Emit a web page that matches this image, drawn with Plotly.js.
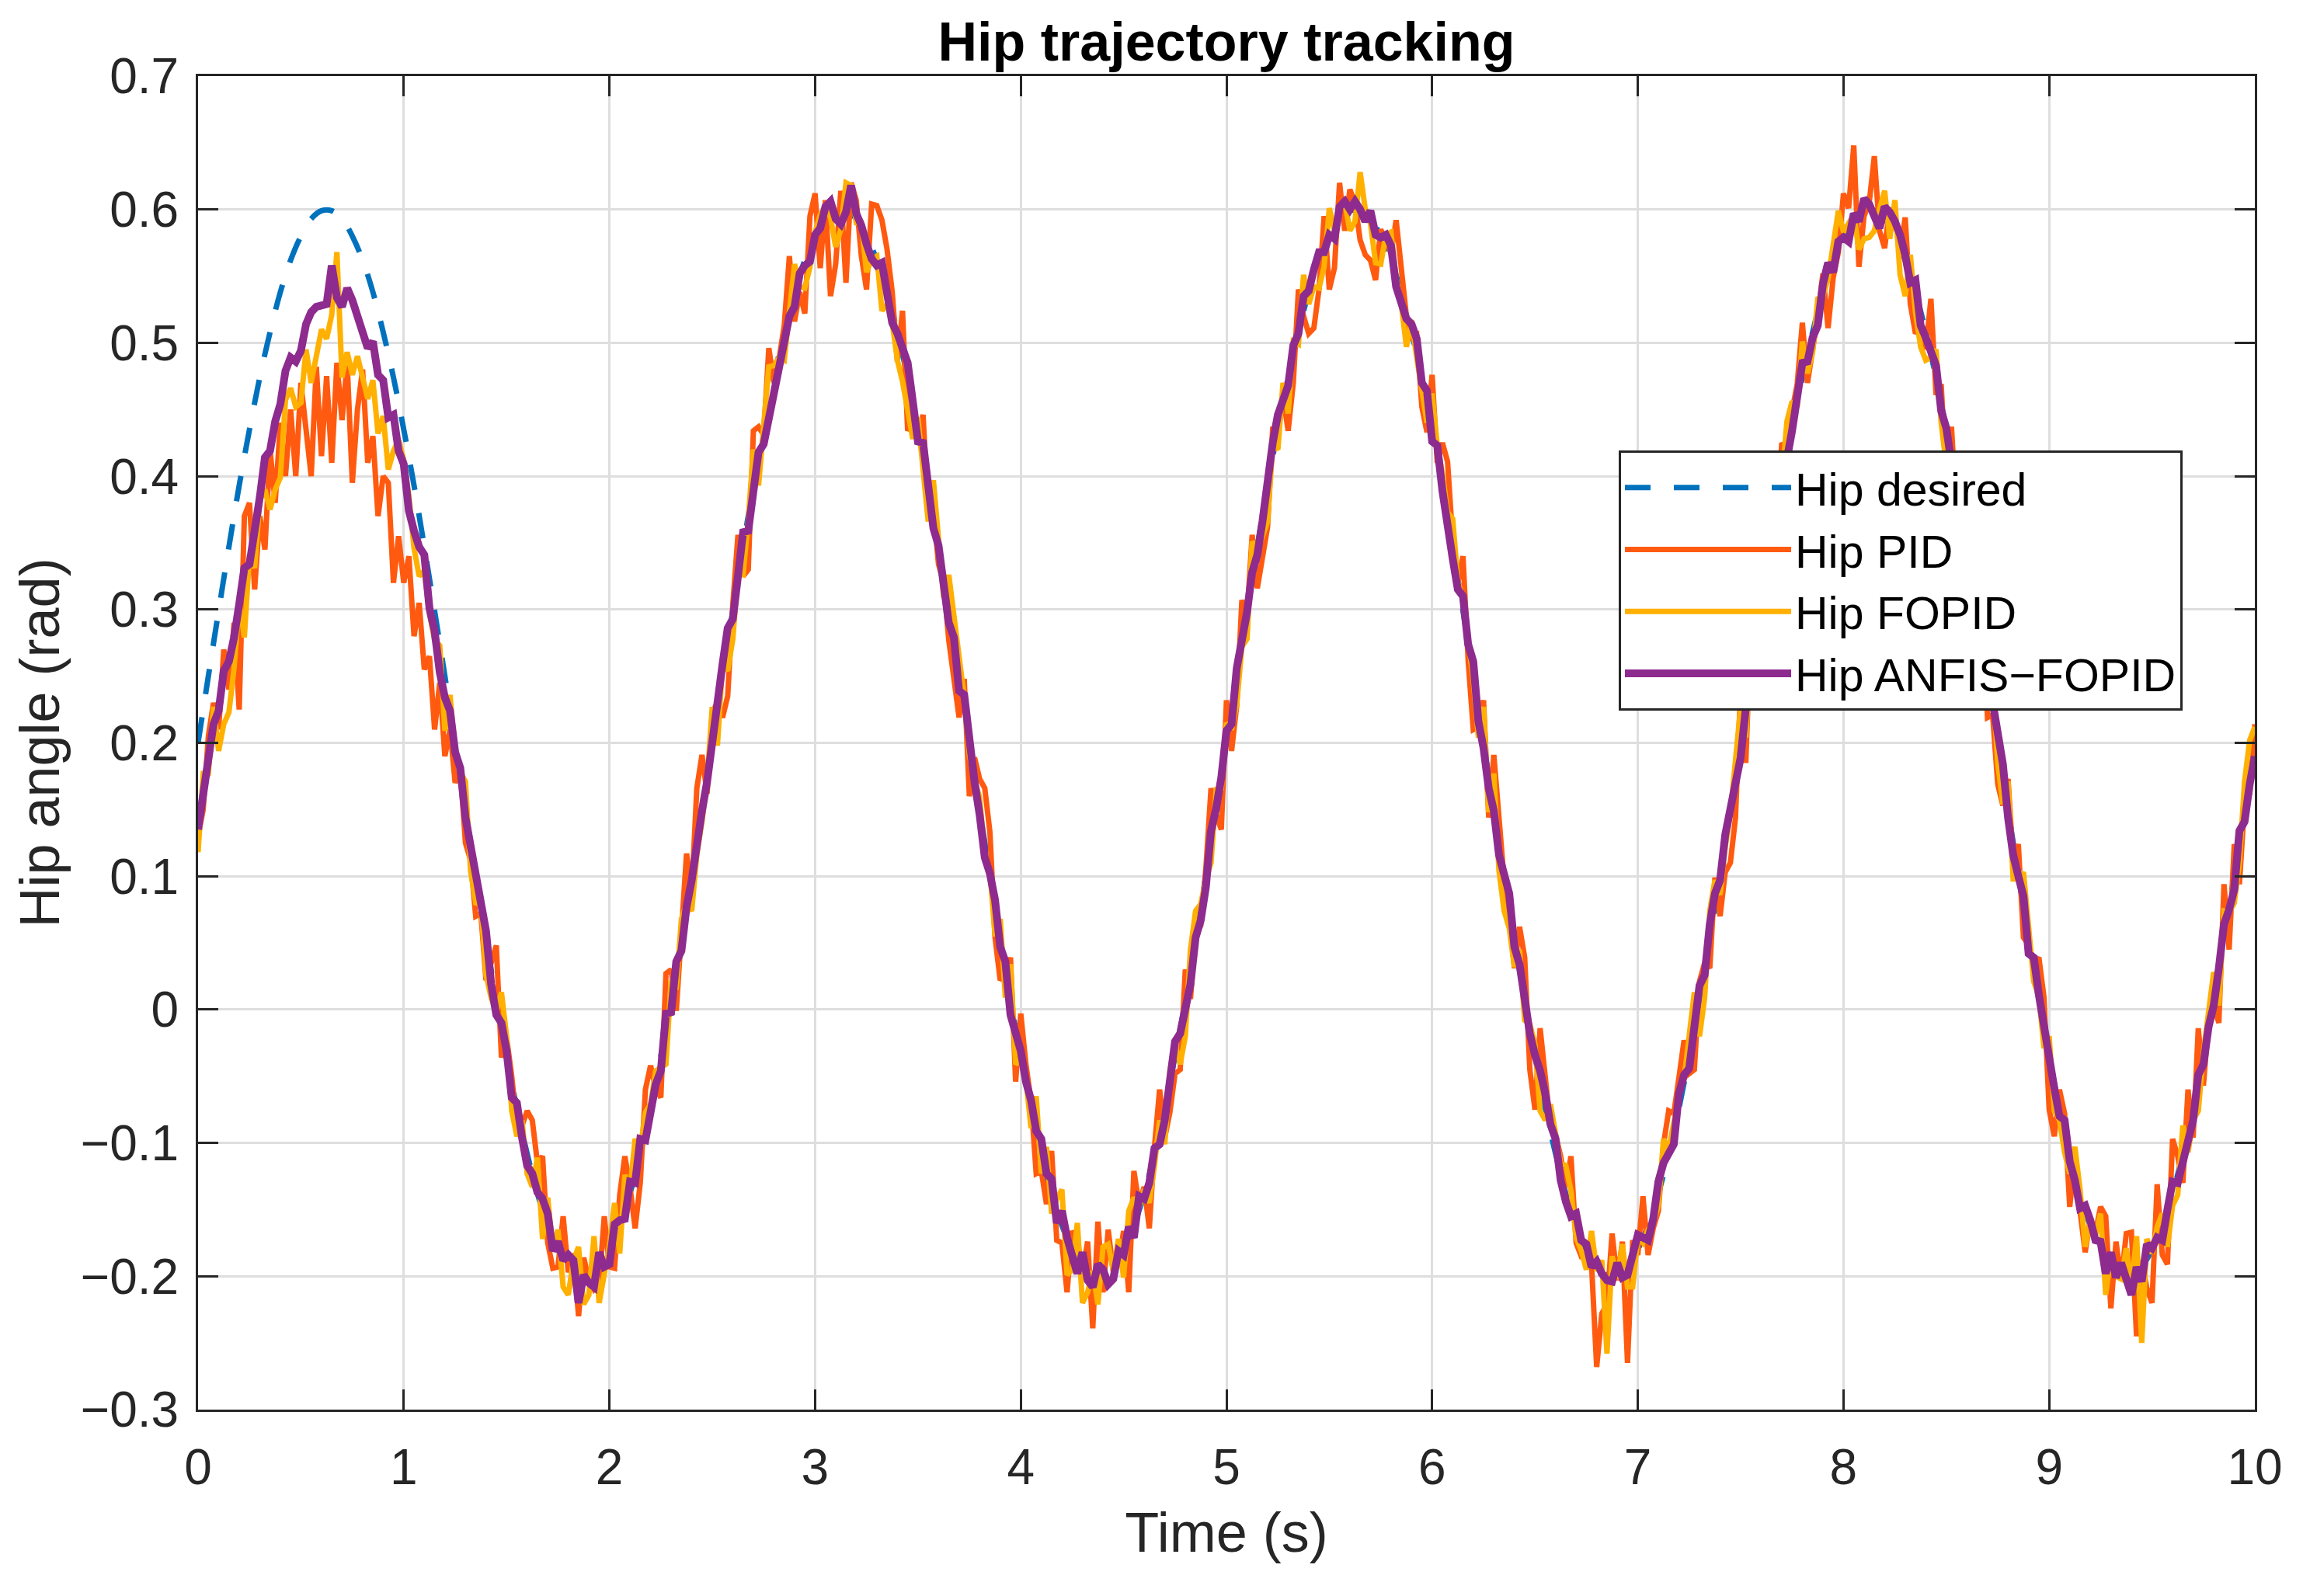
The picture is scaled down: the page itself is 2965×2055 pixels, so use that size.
<!DOCTYPE html>
<html>
<head>
<meta charset="utf-8">
<script src="https://cdn.plot.ly/plotly-3.0.1.min.js"></script>
<style>
html,body{margin:0;padding:0;background:#fff;}
#chart{width:2965px;height:2055px;}
</style>
</head>
<body>
<div id="chart"></div>
<script>
// Sampling of the time axis (s)
var tStart = 0;
var dtDesired = 0.05;
var dtTracked = 0.025;

// Hip desired trajectory (rad), every 0.05 s from 0 to 10 s
var hipDesired = [
 .200,.250,.299,.347,.393,.435,.474,.508,.538,.562,.580,.593,.599,.599,.593,.580,.562,.538,.508,.474,.435,.393,.347,.299,.250,.200,.150,.101,.053,.007,-.035,-.074,-.108,-.138,-.162,-.180,-.193,-.199,-.199,-.193,-.180,-.162,-.138,-.108,-.074,-.035,.007,.053,.101,.150,
 .200,.250,.299,.347,.393,.435,.474,.508,.538,.562,.580,.593,.599,.599,.593,.580,.562,.538,.508,.474,.435,.393,.347,.299,.250,.200,.150,.101,.053,.007,-.035,-.074,-.108,-.138,-.162,-.180,-.193,-.199,-.199,-.193,-.180,-.162,-.138,-.108,-.074,-.035,.007,.053,.101,.150,
 .200,.250,.299,.347,.393,.435,.474,.508,.538,.562,.580,.593,.599,.599,.593,.580,.562,.538,.508,.474,.435,.393,.347,.299,.250,.200,.150,.101,.053,.007,-.035,-.074,-.108,-.138,-.162,-.180,-.193,-.199,-.199,-.193,-.180,-.162,-.138,-.108,-.074,-.035,.007,.053,.101,.150,
 .200,.250,.299,.347,.393,.435,.474,.508,.538,.562,.580,.593,.599,.599,.593,.580,.562,.538,.508,.474,.435,.393,.347,.299,.250,.200,.150,.101,.053,.007,-.035,-.074,-.108,-.138,-.162,-.180,-.193,-.199,-.199,-.193,-.180,-.162,-.138,-.108,-.074,-.035,.007,.053,.101,.150,
 .200
];

// Hip PID response (rad), every 0.025 s
var hipPID = [
 .130,.150,.205,.230,.210,.270,.240,.290,.225,.370,.380,.315,.370,.345,.420,.380,.440,.400,.450,.400,
 .470,.430,.400,.482,.415,.475,.410,.485,.442,.485,.395,.450,.480,.410,.430,.370,.400,.395,.320,.355,
 .320,.340,.280,.305,.255,.265,.210,.245,.190,.210,.170,.180,.125,
 .112,.070,.072,.022,.035,.048,-.036,-.021,-.050,-.087,-.087,-.076,-.083,-.115,-.110,-.175,-.194,-.193,-.155,-.197,
 -.183,-.230,-.186,-.203,-.210,-.206,-.155,-.193,-.194,-.139,-.110,-.133,-.164,-.130,-.060,-.042,-.059,-.066,.027,.030,
 -.001,.067,.117,.088,.166,.191,.162,
 .223,.230,.219,.235,.304,.356,.325,.330,.434,.437,
 .431,.496,.470,.488,.513,.565,.516,.538,.522,.595,
 .612,.556,.607,.535,.559,.614,.545,.620,.607,.565,
 .540,.604,.603,.592,.570,.538,.486,.524,.434,.442,
 .431,.446,.371,.375,.334,.320,.277,.244,.219,.248,
 .160,.189,.173,.166,.133,.054,.022,.026,.039,-.054,
 -.003,-.041,-.069,-.123,-.121,-.146,-.106,-.173,-.175,-.212,
 -.166,-.173,-.197,-.174,-.239,-.159,-.212,-.165,-.197,-.191,
 -.166,-.212,-.121,-.146,-.133,-.164,-.103,-.060,-.096,-.077,
 -.048,-.045,.030,.008,.058,.063,.106,.166,.146,.135,
 .232,.194,.228,.307,.295,.356,.316,.339,.362,.437,
 .431,.460,.434,.470,.540,.520,.507,.511,.540,.595,
 .540,.556,.620,.584,.615,.605,.577,.566,.562,.547,
 .585,.577,.567,.592,.552,.520,.504,.506,.452,.433,
 .476,.410,.425,.411,.352,.320,.340,.262,.210,.212,
 .232,.144,.191,.139,.097,.072,.031,.062,.039,-.045,
 -.075,-.014,-.051,-.087,-.094,-.110,-.133,-.110,-.175,-.185,
 -.184,-.191,-.268,-.228,-.221,-.168,-.203,-.174,-.265,-.173,
 -.184,-.140,-.184,-.164,-.151,-.101,-.076,-.078,-.051,-.023,
 -.048,-.045,.021,.035,.031,.099,.070,.103,.110,.144,
 .241,.185,.291,.244,.295,.329,.361,.366,.425,.419,
 .449,.469,.515,.470,.495,.520,.552,.511,.549,.568,
 .612,.601,.648,.557,.595,.605,.640,.584,.571,.601,
 .594,.568,.594,.529,.507,.511,.495,.533,.461,.469,
 .395,.437,.371,.384,.307,.302,.295,.316,.219,.221,
 .169,.153,.173,.112,.124,.054,.049,.035,.039,.009,
 -.075,-.095,-.060,-.078,-.148,-.110,-.151,-.182,-.157,-.167,
 -.148,-.155,-.224,-.174,-.203,-.168,-.167,-.245,-.188,-.209,
 -.220,-.131,-.184,-.191,-.097,-.110,-.130,-.060,-.096,-.014,
 -.057,-.009,.003,-.010,.094,.045,.124,.094,.155,.162,
 .214
];

// Hip FOPID response (rad), every 0.025 s
var hipFOPID = [
 .118,.177,.177,.227,.194,.214,.223,.256,.306,.279,
 .341,.331,.382,.390,.375,.390,.399,.457,.466,.452,
 .455,.495,.470,.493,.510,.503,.521,.568,.474,.493,
 .476,.490,.474,.458,.472,.432,.445,.405,.419,.427,
 .412,.385,.346,.325,.329,.297,.277,.273,.209,.236,
 .192,.178,.171,.104,.080,.079,.026,.009,-.002,.013,
 -.020,-.076,-.095,-.083,-.123,-.133,-.111,-.172,-.141,-.181,
 -.165,-.208,-.214,-.188,-.178,-.221,-.214,-.170,-.220,-.196,
 -.177,-.145,-.183,-.124,-.135,-.097,-.105,-.077,-.071,-.046,
 -.044,-.041,.022,.015,.068,.079,.074,.116,.141,.172,
 .227,.198,.259,.254,.278,.327,.326,.367,.420,.393,
 .438,.482,.483,.489,.487,.521,.559,.542,.541,.557,
 .583,.596,.602,.594,.572,.585,.620,.618,.590,.590,
 .553,.563,.565,.524,.529,.515,.487,.471,.447,.428,
 .444,.405,.366,.397,.350,.309,.326,.296,.265,.234,
 .191,.172,.159,.116,.104,.055,.068,.009,.034,-.041,
 -.038,-.052,-.089,-.065,-.123,-.103,-.153,-.142,-.135,-.199,
 -.195,-.160,-.220,-.212,-.196,-.221,-.178,-.176,-.196,-.172,
 -.201,-.151,-.141,-.148,-.135,-.145,-.117,-.083,-.101,-.046,
 -.026,-.041,-.020,.045,.074,.079,.098,.110,.165,.166,
 .215,.210,.229,.272,.278,.351,.344,.355,.366,.423,
 .420,.470,.447,.501,.499,.551,.529,.542,.541,.557,
 .601,.584,.602,.606,.584,.591,.628,.600,.590,.560,
 .559,.581,.583,.548,.529,.497,.517,.489,.465,.440,
 .462,.423,.402,.373,.368,.321,.308,.278,.247,.204,
 .227,.148,.177,.104,.074,.061,.032,.045,-.008,-.011,
 -.026,-.076,-.083,-.071,-.093,-.115,-.117,-.136,-.171,-.181,
 -.195,-.166,-.196,-.188,-.258,-.185,-.202,-.176,-.208,-.208,
 -.171,-.175,-.165,-.160,-.147,-.097,-.105,-.083,-.065,-.052,
 -.020,.013,-.020,.009,.074,.097,.086,.122,.147,.184,
 .227,.204,.271,.266,.272,.315,.374,.367,.396,.441,
 .456,.452,.501,.477,.493,.533,.535,.548,.571,.599,
 .583,.590,.596,.570,.578,.579,.584,.600,.614,.578,
 .607,.551,.535,.566,.523,.497,.487,.489,.495,.440,
 .408,.417,.390,.385,.326,.303,.278,.296,.247,.246,
 .185,.154,.171,.098,.098,.103,.056,.021,.010,-.029,
 -.020,-.076,-.083,-.107,-.123,-.103,-.135,-.178,-.159,-.169,
 -.153,-.214,-.184,-.200,-.202,-.179,-.208,-.170,-.250,-.172,
 -.183,-.163,-.153,-.178,-.147,-.139,-.087,-.107,-.083,-.076,
 -.032,-.005,.028,.003,.074,.073,.080,.110,.171,.202,
 .212
];

// Hip ANFIS-FOPID response (rad), every 0.025 s
var hipANFIS = [
 .135,.164,.196,.214,.224,.254,.261,.279,.304,.331,
 .334,.356,.384,.414,.419,.441,.454,.479,.489,.486,
 .494,.514,.523,.527,.528,.529,.558,.534,.527,.541,
 .532,.521,.511,.496,.501,.476,.472,.444,.446,.419,
 .409,.374,.359,.347,.341,.301,.284,.253,.234,.224,
 .193,.181,.144,.124,.102,.085,.059,.019,-.004,-.010,
 -.031,-.066,-.070,-.096,-.117,-.123,-.137,-.142,-.153,-.181,
 -.174,-.188,-.184,-.188,-.220,-.199,-.205,-.208,-.182,-.193,
 -.191,-.161,-.158,-.157,-.129,-.130,-.097,-.098,-.073,-.056,
 -.046,-.003,-.002,.036,.044,.077,.097,.129,.149,.171,
 .204,.231,.259,.286,.293,.325,.358,.359,.389,.418,
 .424,.444,.465,.483,.504,.520,.527,.552,.558,.561,
 .581,.586,.602,.606,.593,.589,.598,.618,.597,.588,
 .574,.563,.558,.560,.537,.515,.507,.496,.485,.456,
 .426,.425,.392,.361,.348,.315,.290,.279,.239,.236,
 .199,.171,.146,.114,.102,.082,.047,.036,-.004,-.018,
 -.031,-.054,-.068,-.091,-.097,-.123,-.127,-.160,-.151,-.171,
 -.184,-.198,-.182,-.203,-.208,-.191,-.195,-.206,-.202,-.181,
 -.184,-.163,-.171,-.140,-.142,-.130,-.104,-.101,-.083,-.049,
 -.024,-.018,-.002,.019,.054,.067,.092,.134,.151,.174,
 .209,.214,.256,.274,.298,.328,.341,.366,.399,.425,
 .446,.459,.468,.498,.507,.535,.539,.555,.568,.568,
 .581,.578,.602,.606,.600,.606,.600,.591,.599,.581,
 .579,.581,.573,.542,.532,.518,.514,.503,.470,.464,
 .426,.423,.389,.359,.338,.315,.310,.274,.261,.216,
 .196,.166,.149,.116,.102,.087,.047,.034,.008,-.018,
 -.034,-.046,-.063,-.086,-.097,-.128,-.144,-.155,-.153,-.173,
 -.176,-.193,-.189,-.198,-.203,-.204,-.190,-.201,-.199,-.181,
 -.169,-.171,-.173,-.157,-.129,-.115,-.109,-.101,-.063,-.049,
 -.044,-.010,.018,.026,.064,.087,.097,.131,.151,.166,
 .189,.226,.259,.269,.288,.335,.353,.369,.404,.413,
 .434,.456,.485,.486,.504,.513,.544,.560,.553,.576,
 .579,.576,.597,.591,.608,.604,.593,.586,.602,.598,
 .591,.581,.566,.545,.547,.513,.504,.491,.483,.449,
 .436,.410,.392,.364,.338,.315,.305,.264,.254,.231,
 .211,.184,.144,.116,.100,.085,.042,.039,.011,-.013,
 -.044,-.059,-.080,-.083,-.114,-.128,-.149,-.147,-.158,-.173,
 -.174,-.198,-.182,-.201,-.190,-.201,-.214,-.193,-.204,-.176,
 -.179,-.171,-.173,-.150,-.129,-.130,-.114,-.096,-.083,-.049,
 -.041,-.013,.003,.031,.064,.075,.090,.134,.141,.169,
 .190
];

var seriesNames = ['Hip desired', 'Hip PID', 'Hip FOPID', 'Hip ANFIS\u2212FOPID'];
var xTickVals = [0,1,2,3,4,5,6,7,8,9,10];
var yTickVals = [-0.3,-0.2,-0.1,0,0.1,0.2,0.3,0.4,0.5,0.6,0.7];
var yTickText = ['\u22120.3','\u22120.2','\u22120.1','0','0.1','0.2','0.3','0.4','0.5','0.6','0.7'];

var FONT = 'Liberation Sans, Arial, Helvetica, sans-serif';
var AX = '#262626';

var traces = [
  {type:'scatter', mode:'lines', name:seriesNames[0], x0:tStart, dx:dtDesired, y:hipDesired,
   line:{color:'#0072BD', width:7, dash:'33px,30px', shape:'spline'}},
  {type:'scatter', mode:'lines', name:seriesNames[1], x0:tStart, dx:dtTracked, y:hipPID,
   line:{color:'#FF5A0F', width:7}},
  {type:'scatter', mode:'lines', name:seriesNames[2], x0:tStart, dx:dtTracked, y:hipFOPID,
   line:{color:'#FFB000', width:7}},
  {type:'scatter', mode:'lines', name:seriesNames[3], x0:tStart, dx:dtTracked, y:hipANFIS,
   line:{color:'#8E2B8F', width:10}}
];

var layout = {
  width:2965, height:2055,
  paper_bgcolor:'#ffffff', plot_bgcolor:'#ffffff',
  margin:{l:255, r:62, t:98, b:240, pad:0},
  font:{family:FONT, color:AX},
  showlegend:true,
  title:{text:'Hip trajectory tracking', font:{family:FONT, size:70, color:'#000', weight:'bold'},
         x:0.5, xref:'paper', xanchor:'center', y:1-53/2055, yref:'container', yanchor:'middle'},
  xaxis:{range:[0,10], tickvals:xTickVals, ticks:'inside', ticklen:26, tickwidth:3, tickcolor:AX,
         showline:true, linewidth:3, linecolor:AX, mirror:'ticks',
         showgrid:true, gridcolor:'#dedede', gridwidth:3, zeroline:false,
         tickfont:{family:FONT, size:64, color:AX}, ticklabelstandoff:16,
         title:{text:'Time (s)', font:{family:FONT, size:72, color:AX}, standoff:24}},
  yaxis:{range:[-0.3,0.7], tickvals:yTickVals, ticktext:yTickText, ticks:'inside', ticklen:26, tickwidth:3, tickcolor:AX,
         showline:true, linewidth:3, linecolor:AX, mirror:'ticks',
         showgrid:true, gridcolor:'#dedede', gridwidth:3, zeroline:false,
         tickfont:{family:FONT, size:64, color:AX}, ticklabelstandoff:9,
         title:{text:'Hip angle (rad)', font:{family:FONT, size:72, color:AX}, standoff:4}},
  legend:{x:(2084-255)/2648, y:(1815-580)/1717, xanchor:'left', yanchor:'top',
          bgcolor:'#ffffff', bordercolor:AX, borderwidth:3,
          font:{family:FONT, size:59, color:'#000'}, itemwidth:214, tracegroupgap:0}
};

Plotly.newPlot('chart', traces, layout, {displayModeBar:false, staticPlot:true});
</script>
</body>
</html>
